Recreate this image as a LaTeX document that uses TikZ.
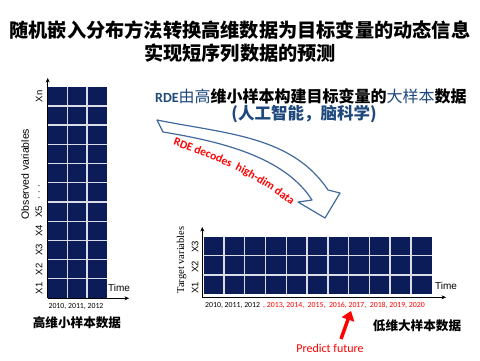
\documentclass[tikz,border=0pt]{standalone}
\usepackage{fontspec}
\setmainfont{Carlito}
\newfontfamily\cjk{Noto Sans CJK SC}
\newfontfamily\labelsans{Liberation Sans}
\newfontfamily\labelserif{Liberation Serif}
\usetikzlibrary{arrows.meta, decorations.text}
\definecolor{cellblue}{RGB}{12,28,88}
\definecolor{textblue}{RGB}{31,73,125}
\definecolor{bendblue}{RGB}{65,105,160}

\begin{document}
\begin{tikzpicture}[x=1pt, y=-1pt,
  gridbox/.style={fill=cellblue, draw=none, inner sep=0pt, anchor=north west},
  gridline/.style={draw=white!85!cellblue, line width=1.3pt},
  axis/.style={-{Stealth[length=4.5pt, width=4pt]}, line width=0.6pt},
  varlabel/.style={font=\labelsans\fontsize{9.5}{10}\selectfont, rotate=90},
  years/.style={font=\fontsize{7.8}{9}\selectfont, inner sep=0pt},
  cjktitle/.style={font=\cjk\bfseries\fontsize{19.2}{22}\selectfont},
  cjkcaption/.style={font=\cjk\bfseries\fontsize{12.6}{14}\selectfont},
  predarrow/.style={red, line width=3.5pt, -{Triangle[length=9pt, width=13pt]}}]
\useasboundingbox (0,0) rectangle (480,360);

% title
\node[cjktitle] (title1) at (240,30) {随机嵌入分布方法转换高维数据为目标变量的动态信息};
\node[cjktitle] (title2) at (240,53) {实现短序列数据的预测};

% high-dim small sample
\node[gridbox, minimum width=59pt, minimum height=211.3pt] (obsgrid) at (47.7,86.7) {};
\foreach \c in {1,2}
  \draw[gridline] (47.7+\c*19.67,86.7) -- +(0,211.3);
\foreach \r in {1,...,10}
  \draw[gridline] (47.7,86.7+\r*19.21) -- +(59,0);
\coordinate (obsorigin) at (47.7,298.3);
\coordinate (obsup) at (47.7,78);
\coordinate (obsright) at (129,298.3);
\draw[axis] (obsorigin) -- (obsup);
\draw[axis] (obsorigin) -- (obsright);
\foreach \lab/\yy in {X1/288.4, X2/269.2, X3/250, X4/230.8, X5/211.6, Xn/96.4}
  \node[varlabel] (obs-\lab) at (39,\yy) {\lab};
\node[varlabel] (obsdots) at (39,192.4) {. . .};
\node[font=\labelsans\fontsize{10.5}{12}\selectfont, rotate=90] (obslabel) at (25,174) {Observed variables};
\node[anchor=west, font=\labelsans\fontsize{10}{12}\selectfont, inner sep=0pt] (obstime) at (108,288) {Time};
\node[years] (obsyears) at (76,306) {2010, 2011, 2012};
\node[cjkcaption] (obscap) at (77,323) {高维小样本数据};

% RDE text
\node[anchor=west, inner sep=0pt] (rdeline) at (155,96)
  {\color{textblue}\fontsize{14}{16}\selectfont\bfseries RDE\cjk\fontsize{16}{18}\selectfont\mdseries 由高\color{black}\bfseries 维小样本构建目标变量的\mdseries\color{textblue}大样本\bfseries\color{black}数据};
\node[font=\cjk\bfseries\fontsize{16.5}{18}\selectfont, text=textblue] (rdefield) at (304,114) {(人工智能，脑科学)};

% bent arrow
\path[draw=bendblue, fill=white, line width=1.2pt, line join=round]
  (157,120) .. controls (227,134) and (292,136) .. (328,190) -- (340,193) -- (325,218)
  -- (298,202) -- (312,200) .. controls (284,156) and (218,141) .. (163,132) -- cycle;
\path[decorate, decoration={text along path, text align=left,
  text={|\color{red}\bfseries\fontsize{11.5}{13}\selectfont|RDE decodes{ }{ }high-dim data}}]
  (173,145) .. controls (215,159) and (262,179) .. (300,213);

% low-dim large sample
\node[gridbox, minimum width=228.4pt, minimum height=57.3pt] (tgtgrid) at (203.3,236.7) {};
\foreach \c in {1,...,10}
  \draw[gridline] (203.3+\c*20.76,236.7) -- +(0,57.3);
\foreach \r in {1,2}
  \draw[gridline] (203.3,236.7+\r*19.1) -- +(228.4,0);
\coordinate (tgtorigin) at (202.3,297.3);
\coordinate (tgtup) at (202.3,227);
\coordinate (tgtright) at (446,297.3);
\draw[axis] (tgtorigin) -- (tgtup);
\draw[axis] (tgtorigin) -- (tgtright);
\foreach \lab/\yy in {X1/288, X2/267, X3/247}
  \node[varlabel] (tgt-\lab) at (195,\yy) {\lab};
\node[font=\labelserif\fontsize{10.5}{12}\selectfont, rotate=90] (tgtlabel) at (181.7,260) {Target variables};
\node[anchor=west, font=\labelsans\fontsize{10}{12}\selectfont, inner sep=0pt] (tgttime) at (435,286) {Time};
\node[years, anchor=west] (pastyears) at (205,305.7) {2010, 2011, 2012};
\node[years, anchor=west, text=red] (futureyears) at (263,305.7) {, 2013, 2014,~ 2015,~ 2016, 2017,~ 2018, 2019, 2020};
\node[cjkcaption] (tgtcap) at (417,326) {低维大样本数据};

% prediction
\node[text=red, font=\fontsize{12}{14}\selectfont] (predict) at (330,348) {Predict future};
\coordinate (predtail) at (341,339);
\coordinate (predtip) at (351,311);
\draw[predarrow] (predtail) -- (predtip);
\end{tikzpicture}
\end{document}
